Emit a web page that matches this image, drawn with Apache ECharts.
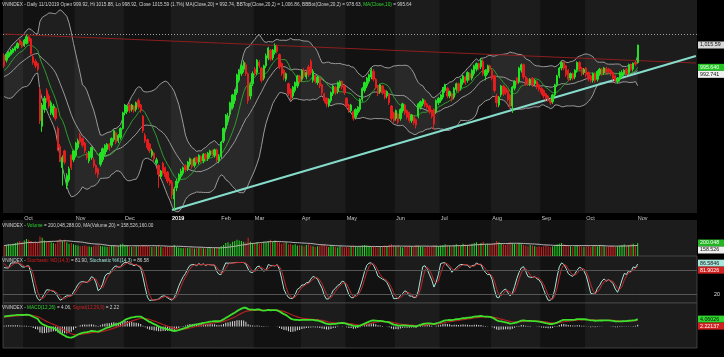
<!DOCTYPE html>
<html><head><meta charset="utf-8">
<script src="https://cdn.jsdelivr.net/npm/echarts@6/dist/echarts.min.js"></script>
<style>html,body{margin:0;padding:0;background:#000;}#c{width:724px;height:357px;}</style>
</head><body><div id="c"></div>
<script>
// ---- Daily candles per month: [open, close, low, high] ----
const sep2018 = [[1006,997,995,1008],[1002,1007,1000,1008],[1005,1009,1004,1010],[1007,1011,1006,1012],[1009,1012,1008,1013],[1011,1014,1010,1015],[1013,1017,1012,1018],[1020,1016,1015,1021],[1018,1014,1013,1019]];
const oct2018 = [[1015,1020,1014,1021],[1017,1023,1016,1025],[1023,1019,1017,1024],[1021,1008,1006,1022],[1005,1000,998,1007],[1001,997,995,1003],[999,994,992,1000],[975,948,945,978],[943,962,938,964],[958,968,955,970],[975,966,964,977],[970,961,959,972],[955,964,953,966],[953,961,951,963],[959,950,948,960],[941,924,921,943],[925,913,911,927],[906,915,890,917],[921,911,909,922],[890,899,887,901],[895,905,893,907],[917,906,904,918],[913,921,911,922]];
const nov2018 = [[917,928,915,929],[924,930,922,932],[935,929,927,937],[932,926,924,933],[928,921,919,929],[918,915,913,920],[912,920,910,921],[915,924,913,925],[913,908,906,915],[908,902,900,909],[905,900,897,906],[909,919,907,920],[913,923,911,924],[918,926,916,927],[922,927,920,928],[927,923,921,928],[926,932,924,933],[931,939,929,940],[937,929,927,938],[930,935,928,936],[933,941,931,942],[941,955,940,956]];
const dec2018 = [[955,962,953,963],[956,961,954,962],[962,957,955,964],[958,962,956,963],[961,957,955,962],[958,964,956,965],[966,960,958,968],[962,957,955,963],[952,939,937,953],[935,930,928,937],[931,924,922,932],[927,921,919,928],[917,921,915,923],[919,914,912,920],[910,913,908,915],[908,900,888,909],[898,903,896,904],[910,901,899,911],[906,898,896,907],[902,894,892,903],[895,892,890,897]];
const jan2019 = [[893,882,878,895],[878,887,868,889],[888,894,885,896],[894,900,892,901],[898,903,896,905],[901,906,899,907],[908,904,902,909],[905,911,903,912],[909,914,907,915],[913,907,905,914],[908,914,906,915],[915,911,909,916],[911,917,909,918],[916,912,910,917],[912,918,910,919],[918,914,912,919],[914,919,912,920],[917,921,915,922],[921,918,916,922],[917,922,915,923],[922,913,911,923],[912,916,910,918]];
const feb2019 = [[916,929,914,930],[930,941,928,942],[941,953,939,954],[948,952,944,955],[954,964,952,965],[960,971,958,972],[966,974,963,976],[973,989,971,990],[984,992,982,994],[990,997,988,999],[994,1000,991,1002],[998,990,988,1000],[990,966,963,991],[970,980,967,982],[981,990,979,992]];
const mar2019 = [[994,990,988,996],[991,1002,989,1003],[1000,997,995,1002],[995,984,982,996],[986,997,984,998],[997,1006,995,1008],[1004,1013,1002,1014],[1011,1003,1001,1012],[1004,1011,1002,1012],[1009,1015,1007,1017],[1014,1010,1008,1016],[1007,996,994,1008],[999,990,988,1000],[993,986,984,994],[985,990,983,991],[981,972,970,982],[976,968,966,977],[970,978,968,979],[975,982,973,983],[979,988,977,989],[988,983,981,989]];
const apr2019 = [[985,993,983,994],[993,988,986,995],[987,991,985,992],[996,989,987,998],[1001,991,989,1003],[984,992,982,994],[988,983,981,989],[982,987,980,988],[986,979,977,987],[980,973,971,981],[972,966,964,973],[968,963,960,969],[962,967,960,968],[966,973,964,974],[972,979,970,980],[978,973,971,979],[974,982,972,983],[979,983,977,984],[983,978,976,984],[979,973,971,980]];
const may2019 = [[968,961,959,969],[962,957,955,963],[957,962,955,963],[956,950,948,957],[951,958,949,959],[955,960,953,961],[958,967,956,968],[967,977,965,978],[975,982,973,983],[979,986,977,987],[983,989,981,990],[987,993,985,995],[992,985,983,994],[985,978,976,986],[979,972,970,980],[974,980,972,981],[979,973,971,980],[975,969,967,976],[970,974,968,975],[971,964,962,972],[961,950,948,962],[955,948,946,956]];
const jun2019 = [[950,957,948,958],[954,947,945,955],[950,958,948,959],[957,963,955,964],[962,955,953,963],[957,951,949,958],[955,948,946,956],[948,953,946,954],[952,946,944,953],[949,944,941,950],[952,963,950,964],[960,965,958,966],[963,967,961,968],[966,962,960,967],[963,960,958,964],[961,956,954,962],[957,952,950,958],[958,945,940,959],[956,966,954,967],[964,968,962,969]];
const jul2019 = [[966,971,964,972],[969,977,967,978],[975,980,973,981],[977,970,968,978],[970,974,968,975],[972,967,965,973],[969,977,967,978],[976,981,974,982],[981,975,973,982],[977,985,975,986],[982,988,980,989],[987,982,980,988],[984,991,982,992],[990,986,984,991],[986,993,984,994],[990,997,988,998],[994,999,992,1000],[999,995,993,1000],[996,1002,994,1004],[1001,990,988,1003],[988,993,984,994],[991,997,989,998],[997,994,992,998]];
const aug2019 = [[993,986,984,994],[988,975,973,989],[970,964,960,972],[962,969,960,970],[971,979,969,980],[979,972,970,980],[977,973,971,978],[975,967,965,976],[971,961,959,972],[961,978,955,979],[977,983,975,984],[986,982,980,987],[983,995,981,996],[993,998,991,999],[998,987,985,999],[987,981,979,988],[985,981,979,986],[981,985,979,986],[986,980,978,987],[981,984,979,985],[983,978,976,984],[980,976,974,981]];
const sep2019 = [[977,973,971,978],[975,970,968,976],[972,968,966,973],[970,967,965,971],[967,964,962,968],[965,971,963,972],[971,980,969,981],[980,988,978,989],[988,995,986,996],[995,1000,993,1001],[1000,995,993,1001],[997,989,987,998],[993,985,983,994],[986,990,984,991],[990,986,984,991],[987,993,985,994],[993,1000,991,1001],[1000,994,992,1001],[995,990,988,996],[991,994,989,995]];
const oct2019 = [[995,989,987,996],[991,985,983,992],[988,984,982,989],[984,990,982,991],[990,984,982,991],[985,992,983,993],[990,994,988,995],[994,990,988,995],[991,995,989,996],[995,991,989,996],[994,992,990,995],[993,990,988,994],[991,986,984,992],[988,984,982,989],[983,986,981,987],[985,991,983,992],[988,991,986,993],[990,993,988,994],[994,990,988,995],[991,998,989,999],[998,994,992,999],[994,999,992,1000],[1000,998.6,997,1001]];
const nov2019 = [[999.92,1015.59,998.92,1015.88]];

// ---- Volume (millions of shares) per month ----
const volSep2018 = [160,170,180,175,190,200,210,230,220];
const volOct2018 = [240,260,250,230,210,220,200,300,280,240,230,220,210,200,190,240,260,230,250,210,190,200,180];
const volNov2018 = [170,160,150,155,160,150,145,140,150,160,170,155,150,145,140,150,160,170,165,155,180,190];
const volDec2018 = [170,160,150,140,145,150,160,150,170,160,155,150,140,145,150,170,140,130,150,145,140];
const volJan2019 = [150,170,140,130,125,120,130,125,120,130,115,120,125,130,120,115,125,130,120,125,140,130];
const volFeb2019 = [150,170,200,210,190,220,230,250,240,230,220,210,280,220,200];
const volMar2019 = [200,210,190,200,220,210,230,250,220,240,230,210,190,200,210,180,190,170,180,160,170];
const volApr2019 = [160,150,170,180,160,150,140,150,160,170,180,150,140,160,150,140,130,150,140,130];
const volMay2019 = [140,130,150,160,150,140,150,160,170,160,150,140,150,140,130,140,150,160,150,170,180,160];
const volJun2019 = [150,160,140,130,150,140,160,150,140,170,160,150,140,130,150,140,150,170,160,150];
const volJul2019 = [160,170,180,170,160,150,170,180,170,160,190,180,170,180,190,200,210,190,200,220,180,190,180];
const volAug2019 = [190,200,230,210,190,180,170,190,210,200,190,180,200,190,170,160,150,170,160,150,140,150];
const volSep2019 = [140,150,160,150,140,150,160,180,190,200,180,170,160,150,140,150,170,160,150,140];
const volOct2019 = [150,160,140,150,160,150,170,160,150,140,150,160,150,140,150,160,170,180,160,170,180,190,170];
const volNov2019 = [200.048];

// closes before the first visible candle (indicator warm-up only)
const warmupCloses = [952,958,955,960,965,962,958,955,960,968,972,970,965,960,958,962,968,975,978,982,985,988,984,980,976,972,975,980,984,988,993,990,985,980,984,990,995,1000,1004,1003];

const monthLabels = ['', 'Oct','Nov','Dec','2019','Feb','Mar','Apr','May','Jun','Jul','Aug','Sep','Oct','Nov'];
// background shading of each month column (1 = lighter)
const monthLight = [1,0,1,0,1,1,0,1,0,1,0,1,0,1,1];
// trend lines: [slot index, price] pairs
const trendRed = [[0, 1025.4], [309, 999.5]];
const trendCyan = [[75, 868.2], [309, 1005.8]];
const FUTURE_SLOTS = 26;

// ---- reference label values ----
const titleText = 'VNINDEX - Daily 11/1/2019 Open 999.92, Hi 1015.88, Lo 998.92, Close 1015.59 (1.7%) MA(Close,20) = 992.74, BBTop(Close,20,2) = 1,006.86, BBBot(Close,20,2) = 978.63, ';
const tags = {close:1015.59, ma10:995.64, ma20:992.741, vol:200.048, volMa:158.526, stK:86.5846, stD:81.9026, macd:4.06, sig:2.22};

// ================= build =================
const monthBlocks = [sep2018,oct2018,nov2018,dec2018,jan2019,feb2019,mar2019,apr2019,may2019,jun2019,jul2019,aug2019,sep2019,oct2019,nov2019];
const volBlocks = [volSep2018,volOct2018,volNov2018,volDec2018,volJan2019,volFeb2019,volMar2019,volApr2019,volMay2019,volJun2019,volJul2019,volAug2019,volSep2019,volOct2019,volNov2019];
const candles = monthBlocks.flat();
const volume = volBlocks.flat();
const N = candles.length;
const TOTAL = N + FUTURE_SLOTS;
const cats = Array.from({length: TOTAL}, (_, i) => String(i));
const monthStart = []; let acc = 0;
monthBlocks.forEach(b => { monthStart.push(acc); acc += b.length; });
const labelAt = {};
monthStart.forEach((s, k) => { if (monthLabels[k]) labelAt[s] = monthLabels[k]; });
const bands = monthStart.map((s, k) => ({s, e: (k + 1 < monthStart.length ? monthStart[k + 1] : TOTAL) - 1, light: monthLight[k] === 1}));

const opens = candles.map(c => c[0]), closes = candles.map(c => c[1]);
const lows = candles.map(c => c[2]), highs = candles.map(c => c[3]);
const W = warmupCloses.length;
const allC = warmupCloses.concat(closes), allH = warmupCloses.concat(highs), allL = warmupCloses.concat(lows);
const win = (arr, end, n) => arr.slice(Math.max(0, end - n + 1), end + 1);
const mean = a => a.reduce((x, y) => x + y, 0) / a.length;

const ma20 = [], ma10 = [], bbU = [], bbL = [], bbDiff = [];
for (let i = 0; i < N; i++) {
  const k = W + i, w = win(allC, k, 20), m = mean(w);
  const sd = Math.sqrt(mean(w.map(v => (v - m) * (v - m))));
  ma20.push(m); bbU.push(m + 2 * sd); bbL.push(m - 2 * sd); bbDiff.push(4 * sd);
  ma10.push(mean(win(allC, k, 10)));
}
const fastK = allC.map((c, k) => { const hh = Math.max(...win(allH, k, 14)), ll = Math.min(...win(allL, k, 14)); return hh === ll ? 50 : 100 * (c - ll) / (hh - ll); });
const slowK = fastK.map((_, k) => mean(win(fastK, k, 3)));
const slowD = slowK.map((_, k) => mean(win(slowK, k, 3)));
const ema = (arr, n) => { const a = 2 / (n + 1), out = []; arr.forEach((v, i) => out.push(i === 0 ? v : a * v + (1 - a) * out[i - 1])); return out; };
const e12 = ema(allC, 12), e26 = ema(allC, 26);
const macdAll = e12.map((v, i) => v - e26[i]);
const sigAll = ema(macdAll, 9);
const macd = macdAll.slice(W), sig = sigAll.slice(W), hist = macd.map((v, i) => v - sig[i]);
const stK = slowK.slice(W), stD = slowD.slice(W);
const volMA = volume.map((_, i) => mean(win(volume, i, 20)));

// MACD axis fitted so the line extremes sit where the reference shows them
const mMax = Math.max(...macd, ...sig), mMin = Math.min(...macd, ...sig);
const mR = (mMax - mMin) * 45 / 30, mAxMax = mMax + 4.7 * mR / 45, mAxMin = mAxMax - mR;
const hMax = Math.max(...hist.map(Math.abs)), hR = hMax * 45 / 7, hAxMax = 23.5 / 45 * hR, hAxMin = hAxMax - hR;

const UP = '#22e022', DOWN = '#e41e1e', LIGHT = 'rgba(255,255,255,0.045)';
const GRID_L = 3, GRID_W = 694;
const grids = [
  {left: GRID_L, width: GRID_W, top: 0, height: 213},
  {left: GRID_L, width: GRID_W, top: 220, height: 36},
  {left: GRID_L, width: GRID_W, top: 256, height: 47},
  {left: GRID_L, width: GRID_W, top: 303, height: 45}
].map((g, i) => Object.assign(g, {show: true, backgroundColor: '#121212', borderColor: '#3a3a3a', borderWidth: i >= 2 ? 1 : 0}));

const xAxes = grids.map((g, i) => ({
  type: 'category', gridIndex: i, data: cats, boundaryGap: true,
  axisLine: {show: false}, axisTick: {show: false}, splitLine: {show: false},
  axisLabel: i === 0 ? {
    show: true, interval: (idx) => labelAt[idx] !== undefined, margin: 2, align: 'left',
    fontSize: 5.5, color: '#c8c8c8', fontFamily: 'Liberation Sans',
    formatter: (v) => labelAt[v] === '2019' ? '{b|2019}' : (labelAt[v] || ''),
    rich: {b: {fontSize: 5.5, fontWeight: 'bold', color: '#ffffff', fontFamily: 'Liberation Sans'}}
  } : {show: false}
}));
const yAxes = [
  {gridIndex: 0, min: 865.5, max: 1055.8},
  {gridIndex: 1, min: 0, max: 554},
  {gridIndex: 2, min: -0.7, max: 113.7},
  {gridIndex: 3, min: mAxMin, max: mAxMax},
  {gridIndex: 3, min: hAxMin, max: hAxMax}
].map(a => Object.assign(a, {type: 'value', show: false, scale: true}));

function bandSeries(g, yIdx) {
  return {
    type: 'custom', xAxisIndex: g, yAxisIndex: yIdx, silent: true, z: 0,
    data: bands.filter(b => b.light).map(b => [b.s, b.e]),
    encode: {x: [0, 1]},
    renderItem: (params, api) => {
      const cs = params.coordSys, w = api.size([1, 0])[0];
      const x0 = api.coord([api.value(0), 0])[0] - w / 2, x1 = api.coord([api.value(1), 0])[0] + w / 2;
      return {type: 'rect', shape: {x: x0, y: cs.y, width: x1 - x0, height: cs.height}, style: {fill: LIGHT}};
    }
  };
}
const line = (name, data, color, width, xi, yi, extra) => Object.assign({
  name, type: 'line', data, xAxisIndex: xi, yAxisIndex: yi, showSymbol: false, symbol: 'none',
  lineStyle: {color, width}, silent: true, z: 3
}, extra || {});

const dottedLevel = Math.max(...highs);
const series = [
  bandSeries(0, 0), bandSeries(1, 1), bandSeries(2, 2), bandSeries(3, 3),
  line('bbBase', bbL, 'rgba(0,0,0,0)', 0, 0, 0, {stack: 'bb', z: 1}),
  line('bbFill', bbDiff, 'rgba(0,0,0,0)', 0, 0, 0, {stack: 'bb', z: 1, areaStyle: {color: 'rgba(255,255,255,0.085)'}}),
  line('BBTop', bbU, '#9a9a9a', 1, 0, 0),
  line('BBBot', bbL, '#9a9a9a', 1, 0, 0),
  line('MA20', ma20, '#9a9a9a', 1, 0, 0),
  line('MA10', ma10, '#2f9a2f', 1, 0, 0),
  {
    name: 'VNINDEX', type: 'candlestick', xAxisIndex: 0, yAxisIndex: 0, data: candles, z: 5,
    barWidth: 1.8, silent: true,
    itemStyle: {color: UP, color0: DOWN, borderColor: UP, borderColor0: DOWN, borderWidth: 1},
    markLine: {
      silent: true, symbol: ['none', 'none'], label: {show: false}, animation: false,
      data: [
        {yAxis: dottedLevel, lineStyle: {color: '#a0a0a0', type: [1, 2], width: 1}},
        [{coord: [String(trendRed[0][0]), trendRed[0][1]], lineStyle: {color: '#8c1e1e', width: 1, type: 'solid'}}, {coord: [String(trendRed[1][0]), trendRed[1][1]]}],
        [{coord: [String(trendCyan[0][0]), trendCyan[0][1]], lineStyle: {color: '#86dccb', width: 2, type: 'solid'}}, {coord: [String(trendCyan[1][0]), trendCyan[1][1]]}]
      ]
    }
  },
  {
    name: 'Volume', type: 'bar', xAxisIndex: 1, yAxisIndex: 1, barWidth: 1, silent: true, z: 3,
    data: volume.map((v, i) => ({value: v, itemStyle: {color: closes[i] >= opens[i] ? UP : DOWN}}))
  },
  line('VolMA', volMA, '#b8b8b8', 1, 1, 1, {z: 4}),
  line('%K', stK, '#a8e6da', 1, 2, 2, {
    markLine: {silent: true, symbol: ['none', 'none'], label: {show: false}, animation: false,
      lineStyle: {color: '#555555', width: 1, type: 'solid'}, data: [{yAxis: 80}, {yAxis: 20}]}
  }),
  line('%D', stD, '#c4262a', 1, 2, 2),
  {
    name: 'Hist', type: 'bar', xAxisIndex: 3, yAxisIndex: 4, barWidth: 1, silent: true, z: 2,
    data: hist, itemStyle: {color: '#d8d8d8'}
  },
  line('Signal', sig, '#b02020', 1.2, 3, 3),
  line('MACD', macd, '#3ee02c', 1.8, 3, 3, {z: 4})
];

const chart = echarts.init(document.getElementById('c'), null, {renderer: 'canvas', width: 724, height: 357});
chart.setOption({
  backgroundColor: '#000000', animation: false,
  grid: grids, xAxis: xAxes, yAxis: yAxes, series
});

// ---- text labels & value tags ----
const FONT = 'Liberation Sans';
const txt = (x, y, rich) => ({type: 'text', x, y, z: 50, style: {text: rich.text, rich: rich.rich, fontSize: 4.7, fontFamily: FONT, fill: '#d0d0d0', verticalAlign: 'middle'}});
const richBase = {w: {fill: '#d0d0d0', fontSize: 4.7, fontFamily: FONT}, g: {fill: '#2ed62e', fontSize: 4.7, fontFamily: FONT}, r: {fill: '#d02020', fontSize: 4.7, fontFamily: FONT}, c: {fill: '#9fe3d6', fontSize: 4.7, fontFamily: FONT}};
const ypix = (ax, v) => chart.convertToPixel({yAxisIndex: ax}, v);
function tag(y, text, bg, fg) {
  return [
    {type: 'rect', z: 60, shape: {x: 698, y: y - 3.5, width: 26, height: 7}, style: {fill: bg}},
    {type: 'text', z: 61, x: 700, y: y, style: {text, fill: fg, fontSize: 5.3, fontFamily: FONT, verticalAlign: 'middle'}}
  ];
}
const yClose = ypix(0, tags.close);
const yMa10 = ypix(0, tags.ma10);
const yMa20 = Math.max(ypix(0, tags.ma20), yMa10 + 7);
const yVol = ypix(1, tags.vol);
const yVolMa = Math.max(ypix(1, tags.volMa), yVol + 7);
const yK = ypix(2, tags.stK) - 4;
const yD = Math.max(ypix(2, tags.stD), yK + 7);
const yM = ypix(3, macd[N - 1]);
const yS = Math.max(ypix(3, sig[N - 1]), yM + 7);
const graphics = [
  txt(2, 5, {text: '{w|' + titleText + '}{g|MA(Close,10)}{w| = 995.64}', rich: richBase}),
  txt(2, 226, {text: '{w|VNINDEX - }{g|Volume}{w| = 200,048,288.00, MA(Volume,20) = 158,526,160.00}', rich: richBase}),
  txt(2, 261, {text: '{w|VNINDEX - }{r|Stochastic %D(14,3)}{w| = 81.90, }{c|Stochastic %K(14,3)}{w| = 86.58}', rich: richBase}),
  txt(2, 308, {text: '{w|VNINDEX - }{g|MACD(12,26)}{w| = 4.06, }{r|Signal(12,26,9)}{w| = 2.22}', rich: richBase}),
  {type: 'text', z: 61, x: 714, y: ypix(2, 20), style: {text: '20', fill: '#e0e0e0', fontSize: 5.3, fontFamily: FONT, verticalAlign: 'middle'}},
  ...tag(yClose, '1,015.59', '#d8d8d8', '#111111'),
  ...tag(yMa10, '995.640', '#22c422', '#ffffff'),
  ...tag(yMa20, '992.741', '#f0f0f0', '#111111'),
  ...tag(yVol, '200.048', '#22b422', '#ffffff'),
  ...tag(yVolMa, '158.526', '#f0f0f0', '#111111'),
  ...tag(yK, '86.5846', '#a8e6da', '#111111'),
  ...tag(yD, '81.9026', '#d02020', '#ffffff'),
  ...tag(yM, '4.06026', '#2ed62e', '#111111'),
  ...tag(yS, '2.22137', '#d02020', '#ffffff')
];
chart.setOption({graphic: graphics});
</script></body></html>
